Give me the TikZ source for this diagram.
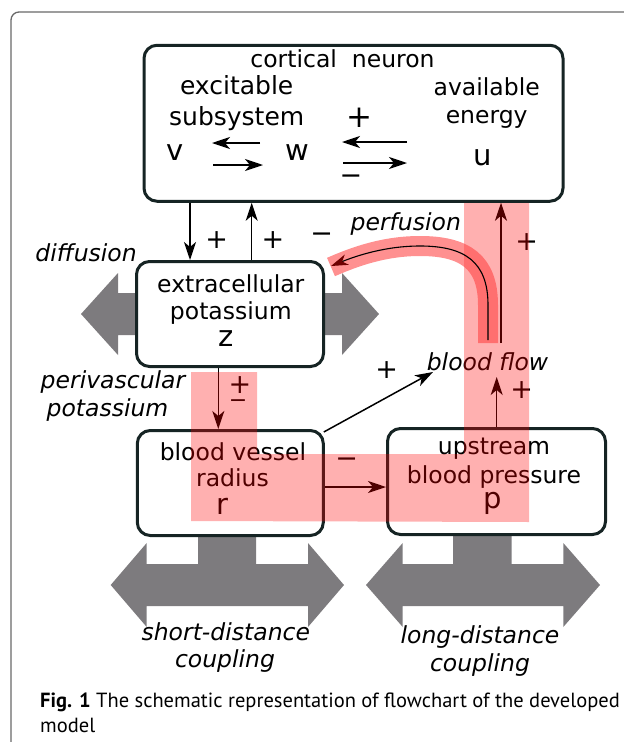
\documentclass[tikz,border=0pt]{standalone}
\usepackage{fontspec}
\newfontfamily\dv{DejaVu Sans}
\newfontfamily\capf{PT Sans}
\usetikzlibrary{arrows.meta}
\definecolor{boxc}{RGB}{22,36,36}
\definecolor{grayarr}{RGB}{125,123,126}
\definecolor{framec}{RGB}{105,105,105}
\definecolor{headred}{RGB}{110,0,0}
\definecolor{curvered}{RGB}{255,70,70}
\begin{document}
\begin{tikzpicture}[x=1pt,y=-1pt,
  box/.style={draw=boxc, line width=3pt, rounded corners=13pt, fill=white, inner sep=0pt},
  lbl/.style={font=\dv\fontsize{23.5}{28}\selectfont, inner sep=0pt, anchor=base},
  lblbig/.style={font=\dv\fontsize{25}{28}\selectfont, inner sep=0pt, anchor=base},
  var/.style={font=\dv\fontsize{29}{32}\selectfont, inner sep=0pt, anchor=base},
  ital/.style={font=\dv\itshape\fontsize{23.5}{28}\selectfont, inner sep=0pt, anchor=base},
  sgn/.style={font=\dv\fontsize{27}{28}\selectfont, inner sep=0pt},
  arr/.style={line width=1.5pt, -{Stealth[length=18pt, width=12pt, inset=5pt]}},
  coup/.style={fill=grayarr},
]
\useasboundingbox (0,0) rectangle (624,742);
% frame
\draw[framec, line width=1.3pt, rounded corners=8pt] (11,742) -- (11,12) -- (624,12);

% gray coupling arrows
\fill[coup] (81,314) -- (118,273) -- (118,293) -- (342,293) -- (342,273) -- (379,314)
  -- (342,355) -- (342,335) -- (118,335) -- (118,355) -- cycle;
\fill[coup] (110.7,585) -- (146.7,543) -- (146.7,564) -- (198,564) -- (198,535) -- (256,535)
  -- (256,564) -- (308,564) -- (308,543) -- (344,585) -- (308,627) -- (308,606)
  -- (146.7,606) -- (146.7,627) -- cycle;
\fill[coup] (366,585) -- (402.7,543) -- (402.7,564) -- (453,564) -- (453,534) -- (511.7,534)
  -- (511.7,564) -- (563.3,564) -- (563.3,543) -- (600,585) -- (563.3,627) -- (563.3,606)
  -- (402.7,606) -- (402.7,627) -- cycle;

% boxes
\node[box, minimum width=419pt, minimum height=156pt] (neuron) at (353.5,123.25) {};
\node[box, minimum width=187pt, minimum height=105pt] (ecp) at (230,314) {};
\node[box, minimum width=186pt, minimum height=105pt] (bvr) at (230.3,483) {};
\node[box, minimum width=218pt, minimum height=106pt] (up) at (496.5,481.5) {};

% neuron texts
\node[lbl] (tcn) at (342.5,67) {cortical~~neuron};
\node[lblbig] (tex) at (236.7,94) {excitable};
\node[lblbig] (tsub) at (236.7,125) {subsystem};
\node[lbl] (tav) at (486.7,95) {available};
\node[lbl] (ten) at (486.7,123) {energy};
\node[var] (v) at (175,160) {v};
\node[var] (w) at (297.5,160) {w};
\node[var] (u) at (483,165) {u};
\node[sgn, font=\dv\fontsize{31}{32}\selectfont] (sp1) at (359,118) {+};
\node[sgn] (sm1) at (351,180) {−};

% other box texts
\node[lbl] (t1) at (230.8,292) {extracellular};
\node[lbl] (t2) at (230.8,319) {potassium};
\node[var] (z) at (225.8,346) {z};
\node[lbl] (t3) at (233,460) {blood vessel};
\node[lbl] (t4) at (232.5,486.7) {radius};
\node[var] (r) at (222.5,514) {r};
\node[lbl] (t5) at (494,454.3) {upstream};
\node[lbl] (t6) at (494,483.3) {blood pressure};
\node[var] (p) at (492.5,508.5) {p};

% free labels
\node[ital] (diff) at (86,261) {diffusion};
\node[ital] (perf) at (405.8,230) {perfusion};
\node[ital] (peri1) at (113,388) {perivascular};
\node[ital] (peri2) at (107.5,416.7) {potassium};
\node[ital] (bflow) at (487.5,370) {blood flow};
\node[ital] (sd1) at (225.8,640) {short-distance};
\node[ital] (sd2) at (225,667) {coupling};
\node[ital] (ld1) at (480,643.3) {long-distance};
\node[ital] (ld2) at (480,671.7) {coupling};

% signs
\node[sgn] (s1) at (216.7,240) {+};
\node[sgn] (s2) at (273,240) {+};
\node[sgn] (s3) at (321.7,238) {−};
\node[sgn] (s4) at (240,385) {+};
\node[sgn, font=\dv\fontsize{22}{24}\selectfont] (s5) at (238,404) {−};
\node[sgn] (s6) at (346.7,463) {−};
\node[sgn] (s7) at (386.7,370) {+};
\node[sgn] (s8) at (521.7,390) {+};
\node[sgn] (s9) at (526.7,241.7) {+};

% internal neuron arrows
\coordinate (vw1) at (260,143); \coordinate (vw2) at (212,143);
\coordinate (vw3) at (213,165); \coordinate (vw4) at (263,165);
\coordinate (wu1) at (407,142); \coordinate (wu2) at (342,142);
\coordinate (wu3) at (343,163); \coordinate (wu4) at (407,163);
\draw[arr] (vw1) -- (vw2);
\draw[arr] (vw3) -- (vw4);
\draw[arr] (wu1) -- (wu2);
\draw[arr] (wu3) -- (wu4);

% connectors
\coordinate (a1) at (190,0);
\draw[arr] (a1 |- neuron.south) -- (a1 |- ecp.north);
\coordinate (a2) at (251.7,0);
\draw[arr] (a2 |- ecp.north) -- (a2 |- neuron.south);
\coordinate (a3) at (218.3,0);
\draw[arr] (a3 |- ecp.south) -- (a3 |- bvr.north);
\coordinate (a4) at (0,487);
\draw[arr] (a4 -| bvr.east) -- (a4 -| up.west);
\coordinate (bf1) at (433,372);
\draw[arr] ([xshift=-1pt,yshift=-3pt]bvr.north east) -- (bf1);
\coordinate (bf2) at (496.7,377);
\draw[arr] (bf2 |- up.north) -- (bf2);
\coordinate (bf3) at (501,343);
\draw[arr] (bf3) -- (bf3 |- neuron.south);

% pink pathway band
\fill[red, opacity=0.31] (191,372) -- (257,372) -- (257,454) -- (464,454) -- (464,203)
  -- (529,203) -- (529,522) -- (191,521) -- cycle;

% perfusion curve
\draw[curvered, opacity=0.6, line width=20pt] (488,343) -- (488,305)
  .. controls (488,262) and (465,246) .. (420,246)
  .. controls (385,246) and (356,256) .. (331,267);
\coordinate (pf0) at (488,340);
\coordinate (pf1) at (331,266);
\draw[line width=1.1pt, -{Stealth[length=17pt, width=11pt, inset=5pt, color=headred]}]
  (pf0) -- (488,305) .. controls (488,262) and (465,246) .. (420,246)
  .. controls (385,246) and (356,256) .. (pf1);

% caption
\node[anchor=base west, align=left, inner sep=0pt,
  font=\capf\fontsize{20.5}{25}\selectfont] (cap) at (40,732)
  {\textbf{Fig. 1} The schematic representation of flowchart of the developed\\model};
\end{tikzpicture}
\end{document}
